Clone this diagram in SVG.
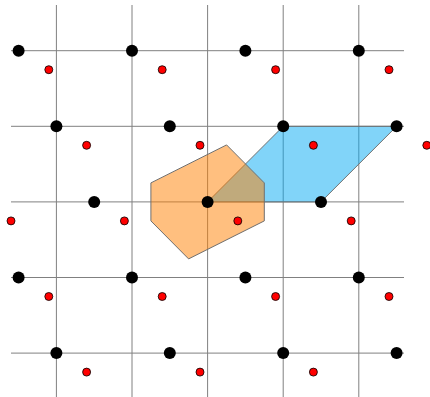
<svg xmlns="http://www.w3.org/2000/svg" width="430" height="397" viewBox="0 0 430 397">
<style>
.g line{stroke:#808080;stroke-width:1}
.cell{stroke:#707070;stroke-width:1;fill-opacity:0.5}
.b{fill:#000}
.r{fill:#ff0000;stroke:#000;stroke-width:0.8}
</style>
<rect width="430" height="397" fill="#fff"/>
<g id="grid" class="g">
<line x1="56.4" y1="5" x2="56.4" y2="397"/>
<line x1="132" y1="5" x2="132" y2="397"/>
<line x1="207.6" y1="5" x2="207.6" y2="397"/>
<line x1="283.2" y1="5" x2="283.2" y2="397"/>
<line x1="358.8" y1="5" x2="358.8" y2="397"/>
<line x1="11" y1="50.7" x2="404" y2="50.7"/>
<line x1="11" y1="126.3" x2="404" y2="126.3"/>
<line x1="11" y1="201.9" x2="404" y2="201.9"/>
<line x1="11" y1="277.5" x2="404" y2="277.5"/>
<line x1="11" y1="353.1" x2="404" y2="353.1"/>
</g>
<g id="unit-cell">
<polygon class="cell" fill="#03a9f4" points="207.6,201.9 283.2,126.3 396.6,126.3 321,201.9"/>
</g>
<g id="wigner-seitz">
<polygon class="cell" fill="#ff8000" points="226.6,144.9 264.3,182.9 264.3,220.9 188.6,258.9 150.9,220.9 150.9,182.9"/>
</g>
<g id="lattice">
<circle class="b" cx="18.6" cy="50.7" r="6"/><circle class="b" cx="132" cy="50.7" r="6"/><circle class="b" cx="245.4" cy="50.7" r="6"/><circle class="b" cx="358.8" cy="50.7" r="6"/>
<circle class="b" cx="56.4" cy="126.3" r="6"/><circle class="b" cx="169.8" cy="126.3" r="6"/><circle class="b" cx="283.2" cy="126.3" r="6"/><circle class="b" cx="396.6" cy="126.3" r="6"/>
<circle class="b" cx="94.2" cy="201.9" r="6"/><circle class="b" cx="207.6" cy="201.9" r="6"/><circle class="b" cx="321" cy="201.9" r="6"/>
<circle class="b" cx="18.6" cy="277.5" r="6"/><circle class="b" cx="132" cy="277.5" r="6"/><circle class="b" cx="245.4" cy="277.5" r="6"/><circle class="b" cx="358.8" cy="277.5" r="6"/>
<circle class="b" cx="56.4" cy="353.1" r="6"/><circle class="b" cx="169.8" cy="353.1" r="6"/><circle class="b" cx="283.2" cy="353.1" r="6"/><circle class="b" cx="396.6" cy="353.1" r="6"/>
</g>
<g id="basis">
<circle class="r" cx="48.8" cy="69.7" r="4"/><circle class="r" cx="162.2" cy="69.7" r="4"/><circle class="r" cx="275.6" cy="69.7" r="4"/><circle class="r" cx="389" cy="69.7" r="4"/>
<circle class="r" cx="86.6" cy="145.3" r="4"/><circle class="r" cx="200" cy="145.3" r="4"/><circle class="r" cx="313.4" cy="145.3" r="4"/><circle class="r" cx="426.8" cy="145.3" r="4"/>
<circle class="r" cx="11" cy="220.9" r="4"/><circle class="r" cx="124.4" cy="220.9" r="4"/><circle class="r" cx="237.8" cy="220.9" r="4"/><circle class="r" cx="351.2" cy="220.9" r="4"/>
<circle class="r" cx="48.8" cy="296.5" r="4"/><circle class="r" cx="162.2" cy="296.5" r="4"/><circle class="r" cx="275.6" cy="296.5" r="4"/><circle class="r" cx="389" cy="296.5" r="4"/>
<circle class="r" cx="86.6" cy="372.1" r="4"/><circle class="r" cx="200" cy="372.1" r="4"/><circle class="r" cx="313.4" cy="372.1" r="4"/>
</g>
</svg>
